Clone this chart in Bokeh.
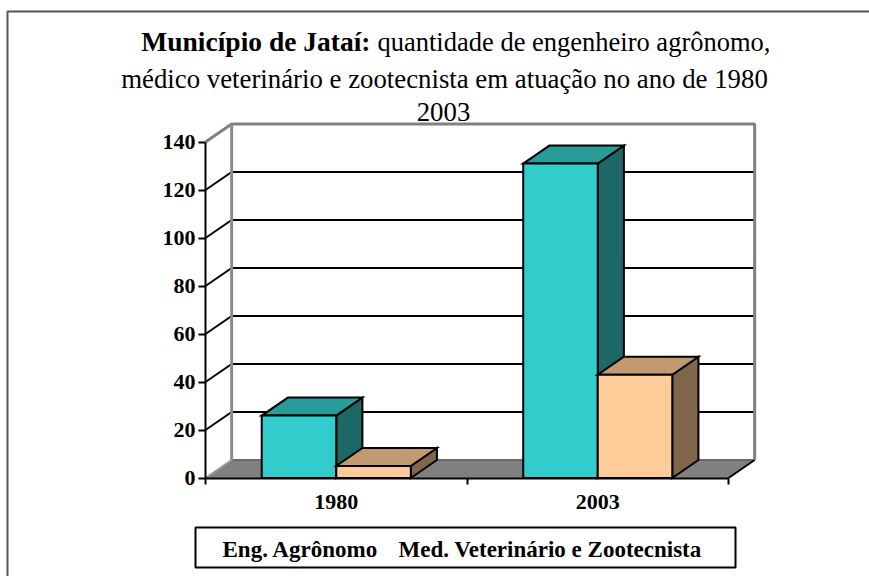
from bokeh.plotting import figure
from bokeh.models import FixedTicker, Label, BoxAnnotation, Range1d
from bokeh.embed import file_html
from bokeh.resources import INLINE

# ---------------- data ----------------
years = ["1980", "2003"]
eng_agronomo = [26, 131]
med_vet_zoo = [5, 43]
y_ticks = [0, 20, 40, 60, 80, 100, 120, 140]
series_names = ["Eng. Agrônomo", "Med. Veterinário e Zootecnista"]
title_bold = "Município de Jataí:"
title_rest = "quantidade de engenheiro agrônomo,"
title_line2 = "médico veterinário e zootecnista em atuação no ano de 1980"
title_line3 = "2003"

# ---------------- layout / style ----------------
W, H = 869, 576
X0PX, Y0PX = 205, 477.5     # pixel position of the data origin (front axis corner)
SX = 261.5                  # px per category
SY = 2.4                    # px per value unit
DX, DY = 0.1, 7.5           # 3D depth offset (data units)
BW = 0.285                  # bar width (category units)
FONT = "Liberation Serif"

TEAL = ("#33CCCC", "#289C99", "#1E6767")
BEIGE = ("#FFCC99", "#C19B6F", "#80674B")

n = len(years)
ymax = y_ticks[-1]


def cx(px):
    return (px - X0PX) / SX


def cy(py):
    return (Y0PX - py) / SY


p = figure(width=W, height=H,
           x_range=Range1d(cx(0), cx(W)), y_range=Range1d(cy(H), cy(0)),
           output_backend="svg", toolbar_location=None,
           min_border_left=0, min_border_right=0,
           min_border_top=0, min_border_bottom=0)
p.grid.visible = False
p.outline_line_color = None
p.background_fill_color = "white"
p.border_fill_color = "white"

# ---------------- page frame ----------------
p.line([cx(7), cx(7), cx(W + 5)], [cy(H + 5), cy(11), cy(11)],
       line_color="#555555", line_width=2)

# ---------------- floor ----------------
p.patch([0, n, n + DX, DX], [0, 0, DY, DY], fill_color="#808080", line_color=None)
p.line([DX, n + DX], [DY, DY], line_color="#6A6A6A", line_width=2)
p.line([0, DX], [0, DY], line_color="#9A9A9A", line_width=2)
p.line([n, n + DX], [0, DY], line_color="black", line_width=2)

# ---------------- gridlines (side wall + back wall) ----------------
gx = [[0, DX, n + DX] for v in y_ticks[1:-1]]
gy = [[v, v + DY, v + DY] for v in y_ticks[1:-1]]
p.multi_line(gx, gy, line_color="black", line_width=2)

# wall edges (gray)
p.line([0, DX, n + DX, n + DX], [ymax, ymax + DY, ymax + DY, DY],
       line_color="#808080", line_width=3)
p.line([DX, DX], [DY, ymax + DY], line_color="#8C8C8C", line_width=3)

# ---------------- 3D bars ----------------
for vals, cols, sgn in ((eng_agronomo, TEAL, -1), (med_vet_zoo, BEIGE, 1)):
    centers = [i + 0.5 for i in range(n)]
    if sgn < 0:
        x0 = [c - BW for c in centers]
        x1 = centers
    else:
        x0 = centers
        x1 = [c + BW for c in centers]
    side_xs = [[b, b + DX, b + DX, b] for b in x1]
    side_ys = [[0, DY, v + DY, v] for v in vals]
    p.patches(side_xs, side_ys, fill_color=cols[2], line_color="black", line_width=2,
              line_join="miter")
    top_xs = [[a, b, b + DX, a + DX] for a, b in zip(x0, x1)]
    top_ys = [[v, v, v + DY, v + DY] for v in vals]
    p.patches(top_xs, top_ys, fill_color=cols[1], line_color="black", line_width=2,
              line_join="miter")
    p.quad(left=x0, right=x1, bottom=0, top=vals, fill_color=cols[0],
           line_color="black", line_width=2, line_join="miter")

# ---------------- axes (crossing at the data origin) ----------------
ya = p.yaxis[0]
ya.fixed_location = 0
ya.bounds = (0, ymax)
ya.ticker = FixedTicker(ticks=y_ticks)
ya.axis_line_width = 2
ya.axis_line_color = "black"
ya.major_tick_line_width = 2
ya.major_tick_out = 7
ya.major_tick_in = 0
ya.minor_tick_line_color = None
ya.major_label_standoff = 3
ya.major_label_text_font = FONT
ya.major_label_text_font_style = "bold"
ya.major_label_text_font_size = "22px"
ya.major_label_text_color = "black"

xa = p.xaxis[0]
xa.fixed_location = 0
xa.bounds = (0, n)
xa.ticker = FixedTicker(ticks=[i + 0.5 for i in range(n)], minor_ticks=list(range(n + 1)))
xa.major_label_overrides = {i + 0.5: y for i, y in enumerate(years)}
xa.axis_line_width = 2
xa.axis_line_color = "black"
xa.major_tick_line_color = None
xa.major_tick_out = 0
xa.major_tick_in = 0
xa.minor_tick_line_color = "black"
xa.minor_tick_line_width = 2
xa.minor_tick_out = 6
xa.minor_tick_in = 0
xa.major_label_standoff = 11
xa.major_label_text_font = FONT
xa.major_label_text_font_style = "bold"
xa.major_label_text_font_size = "22px"
xa.major_label_text_color = "black"

# ---------------- title ----------------
p.add_layout(Label(x=cx(370), y=cy(41), text=title_bold, text_font=FONT,
                   text_font_size="27.5px", text_font_style="bold", text_align="right",
                   text_baseline="alphabetic", text_color="black"))
p.add_layout(Label(x=cx(377), y=cy(41), text=title_rest, text_font=FONT,
                   text_font_size="26.5px", text_align="left",
                   text_baseline="alphabetic", text_color="black"))
p.add_layout(Label(x=cx(444), y=cy(78), text=title_line2, text_font=FONT,
                   text_font_size="26.8px", text_align="center",
                   text_baseline="alphabetic", text_color="black"))
p.add_layout(Label(x=cx(443), y=cy(111), text=title_line3, text_font=FONT,
                   text_font_size="26.8px", text_align="center",
                   text_baseline="alphabetic", text_color="black"))

# ---------------- legend ----------------
p.add_layout(BoxAnnotation(left=cx(195), right=cx(735), top=cy(527), bottom=cy(567),
                           fill_color="white", fill_alpha=1, line_color="black",
                           line_alpha=1, line_width=2))
for name, xpx in zip(series_names, (222, 398)):
    p.add_layout(Label(x=cx(xpx), y=cy(549), text=name, text_font=FONT,
                       text_font_size="23px", text_font_style="bold",
                       text_align="left", text_baseline="alphabetic",
                       text_color="black"))

open("out.html", "w").write(file_html(p, INLINE))
